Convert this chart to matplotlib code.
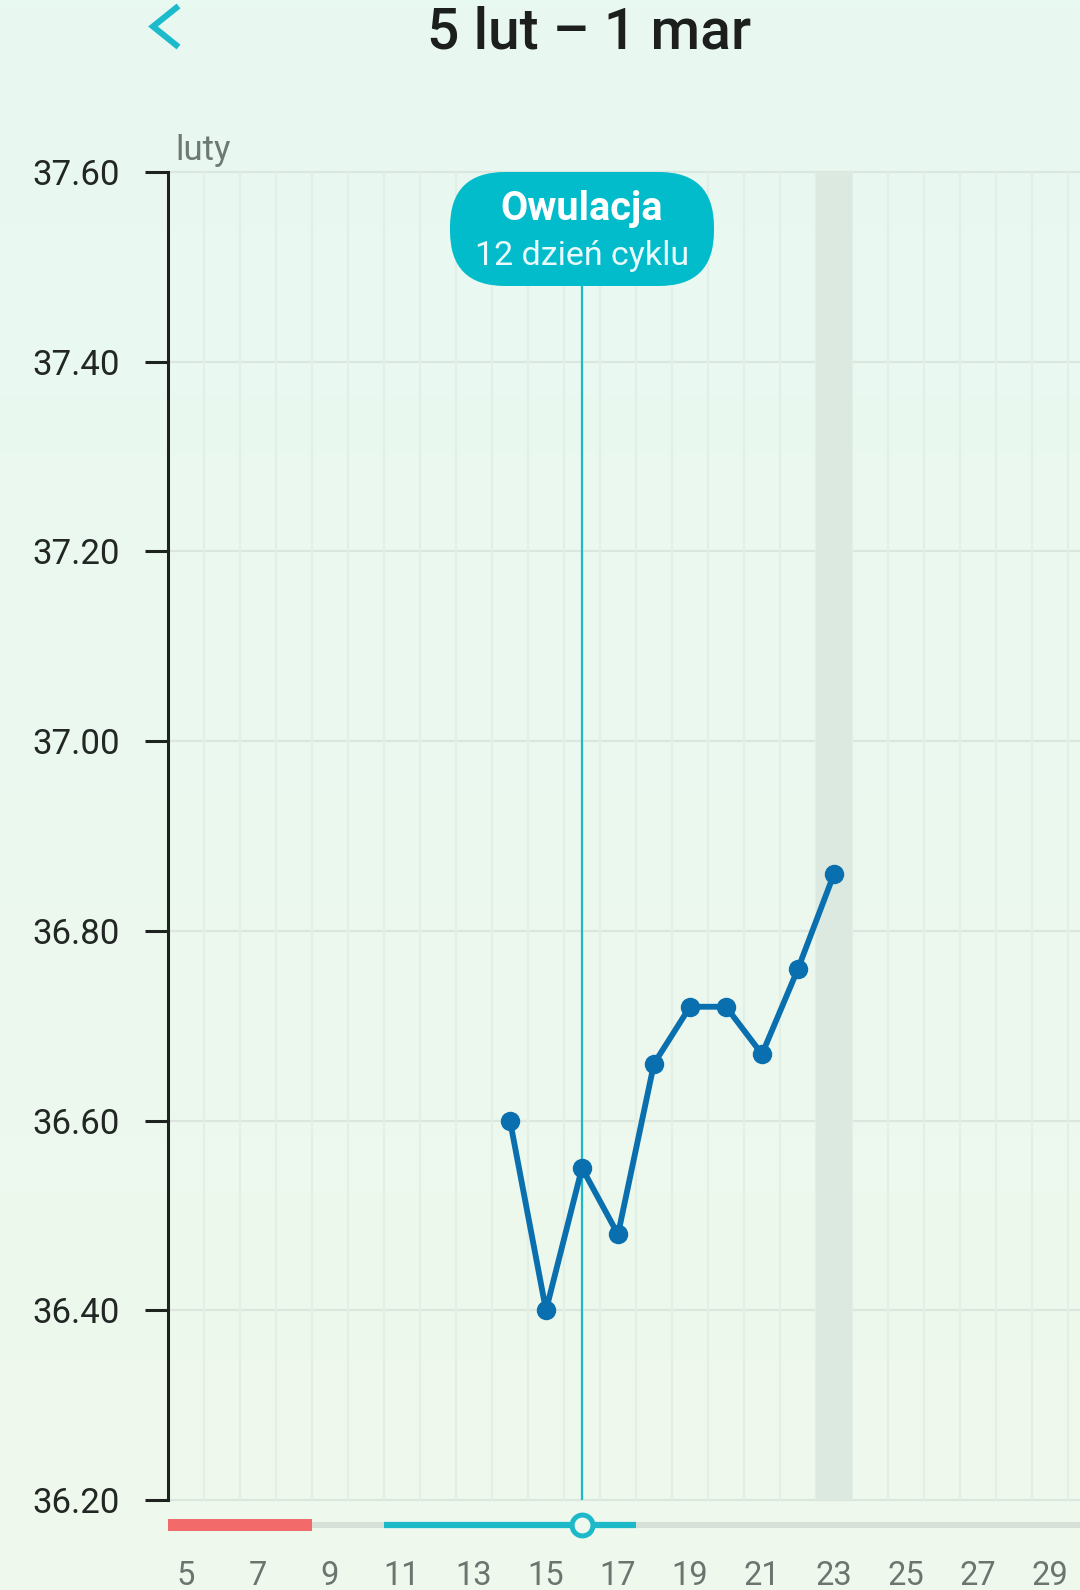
import matplotlib
matplotlib.use("Agg")
import matplotlib.pyplot as plt
import matplotlib.transforms as mtransforms
from matplotlib.patches import FancyBboxPatch
from matplotlib.lines import Line2D
import numpy as np

plt.rcParams['font.family'] = ['Roboto', 'DejaVu Sans']

# data
days = [14, 15, 16, 17, 18, 19, 20, 21, 22, 23]
temps = [36.60, 36.40, 36.55, 36.48, 36.66, 36.72, 36.72, 36.67, 36.76, 36.86]
label_days = list(range(5, 30, 2))
y_ticks = [36.20, 36.40, 36.60, 36.80, 37.00, 37.20, 37.40, 37.60]
ovulation_day = 16
highlight_day = 23
period_days = (5, 8)
fertile_days = (11, 17)
title = "5 lut – 1 mar"
month = "luty"
bubble_title = "Owulacja"
bubble_sub = "12 dzień cyklu"

W, H = 1080, 1590
fig = plt.figure(figsize=(W / 100, H / 100), dpi=100)
px = mtransforms.IdentityTransform()

# background, slight vertical gradient
bg = fig.add_axes([0, 0, 1, 1], zorder=-10)
top_c = np.array([232, 249, 241]) / 255
bot_c = np.array([239, 248, 237]) / 255
t = np.linspace(0, 1, 256)[:, None, None]
grad = top_c * (1 - t) + bot_c * t
bg.imshow(np.repeat(grad, 2, axis=1), aspect='auto', extent=[0, 1, 0, 1])
bg.axis('off')

day_px = 36
x_left = 4.5
x_right = x_left + (W - 168) / day_px

ax = fig.add_axes([168 / W, 1 - 1500 / H, (W - 168) / W, (1500 - 172) / H])
ax.patch.set_alpha(0)
ax.set_xlim(x_left, x_right)
ax.set_ylim(y_ticks[0], y_ticks[-1])

for s in ['top', 'right', 'bottom']:
    ax.spines[s].set_visible(False)
ax.spines['left'].set_color('#1e2320')
ax.spines['left'].set_linewidth(2.2)

for y in y_ticks:
    ax.axhline(y, color='#dbe6de', lw=1.6, zorder=0, clip_on=False)
for d in np.arange(5.5, 30, 1):
    ax.axvline(d, color='#e2efe7', lw=1.5, zorder=0)
ax.axvspan(highlight_day - 0.5, highlight_day + 0.5, color='#dbe9e1', zorder=0, lw=0)

ax.set_yticks(y_ticks, labels=[f"{v:.2f}" for v in y_ticks])
ax.tick_params(axis='y', length=16.5, width=2.2, pad=18, labelsize=25,
               color='#1e2320', labelcolor='#222624')
ax.set_xticks(label_days, labels=[str(d) for d in label_days])
ax.tick_params(axis='x', length=0, pad=43, labelsize=23.5, labelcolor='#6b756f')

ax.axvline(ovulation_day, color='#1cb9c7', lw=1.6, zorder=3)
ax.plot(days, temps, color='#0a6fae', lw=4.2, marker='o', ms=13,
        zorder=5, solid_joinstyle='round')

# cycle bar under the chart
axb = fig.add_axes([168 / W, 1 - 1545 / H, (W - 168) / W, 40 / H])
axb.set_xlim(x_left, x_right)
axb.set_ylim(0, 1)
axb.axis('off')
axb.hlines(0.5, x_left, x_right, color='#d6e0d9', lw=4.3, capstyle='butt')
axb.hlines(0.5, period_days[0] - 0.5, period_days[1] + 0.5, color='#f26a6a',
           lw=8.6, capstyle='butt')
axb.hlines(0.5, fertile_days[0] - 0.5, fertile_days[1] + 0.5, color='#1db9c8',
           lw=4.5, capstyle='butt')
axb.plot(ovulation_day, 0.5, 'o', ms=15, mfc='#eef8ee', mec='#1db9c8', mew=3.6,
         zorder=5)

# ovulation bubble
cx = ax.transData.transform((ovulation_day, 37.0))[0]
bw, bh = 264, 114
box = FancyBboxPatch((cx - bw / 2, H - 286), bw, bh,
                     boxstyle="round,pad=0,rounding_size=55",
                     transform=px, fc='#02bccb', ec='none', zorder=6)
fig.add_artist(box)
fig.text(cx, H - 219.5, bubble_title, transform=px, ha='center', va='baseline',
         fontsize=28.5, fontweight='bold', color='white', zorder=7)
fig.text(cx, H - 264.5, bubble_sub, transform=px, ha='center', va='baseline',
         fontsize=24.5, color='#e8fafb', zorder=7)

# header
fig.text(589, H - 48.5, title, transform=px, ha='center', va='baseline',
         fontsize=41, fontweight='medium', color='#1c1f1d')
fig.add_artist(Line2D([178.5, 153, 178.5], [H - 6, H - 26.5, H - 47],
                      transform=px, color='#1cbbcb', lw=4.4,
                      solid_capstyle='butt', solid_joinstyle='miter'))
fig.text(175, H - 160, month, transform=px, ha='left', va='baseline',
         fontsize=25, color='#6e7973')

fig.savefig("out.png", dpi=100)
